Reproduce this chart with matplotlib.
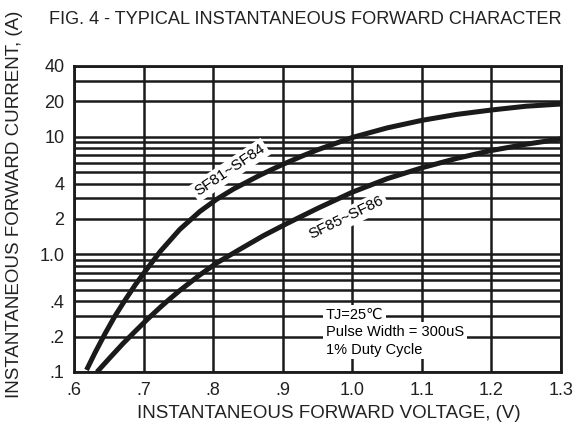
import matplotlib
matplotlib.use("Agg")
import matplotlib.pyplot as plt
from matplotlib.ticker import FixedLocator, NullFormatter

plt.rcParams["font.family"] = ["Liberation Sans", "DejaVu Sans"]

# forward voltage (V) / forward current (A)
v_sf81 = [0.618, 0.630, 0.645, 0.659, 0.673, 0.688, 0.702, 0.724, 0.752, 0.781,
          0.805, 0.829, 0.867, 0.896, 0.925, 0.95, 1.00, 1.05, 1.10, 1.15,
          1.20, 1.25, 1.30]
i_sf81 = [0.104, 0.145, 0.214, 0.30, 0.405, 0.55, 0.715, 1.06, 1.63, 2.32,
          2.94, 3.59, 4.71, 5.68, 6.75, 7.75, 9.87, 11.9, 13.8, 15.5,
          16.9, 18.2, 19.0]

v_sf85 = [0.633, 0.652, 0.671, 0.688, 0.705, 0.724, 0.738, 0.752, 0.781, 0.805,
          0.839, 0.872, 0.906, 0.925, 0.95, 1.00, 1.05, 1.10, 1.15, 1.20,
          1.25, 1.30]
i_sf85 = [0.100, 0.133, 0.176, 0.222, 0.279, 0.355, 0.42, 0.493, 0.67, 0.845,
          1.11, 1.44, 1.83, 2.08, 2.46, 3.38, 4.4, 5.45, 6.55, 7.65,
          8.65, 9.6]

x_ticks = [0.6, 0.7, 0.8, 0.9, 1.0, 1.1, 1.2, 1.3]
x_labels = [".6", ".7", ".8", ".9", "1.0", "1.1", "1.2", "1.3"]
y_ticks = [0.1, 0.2, 0.4, 1.0, 2, 4, 10, 20, 40]
y_labels = [".1", ".2", ".4", "1.0", "2", "4", "10", "20", "40"]
y_minor = [0.3, 0.5, 0.6, 0.7, 0.8, 0.9, 3, 5, 6, 7, 8, 9, 30]

fig = plt.figure(figsize=(5.76, 4.29), dpi=100)
ax = fig.add_axes([74 / 576, 1 - 372 / 429, 487 / 576, 306 / 429])

ax.set_yscale("log")
ax.set_xlim(0.6, 1.3)
ax.set_ylim(0.1, 40)

ax.xaxis.set_major_locator(FixedLocator(x_ticks))
ax.set_xticklabels(x_labels)
ax.yaxis.set_major_locator(FixedLocator(y_ticks))
ax.yaxis.set_minor_locator(FixedLocator(y_minor))
ax.yaxis.set_minor_formatter(NullFormatter())
ax.set_yticklabels(y_labels)
ax.tick_params(which="both", length=0, labelsize=13, colors="#222222", pad=7)

ax.grid(True, which="both", color="#1a1a1a", linewidth=1.8, zorder=1)
ax.set_axisbelow(True)
for sp in ax.spines.values():
    sp.set_linewidth(2.0)
    sp.set_color("#1a1a1a")

for v, i in [(v_sf81, i_sf81), (v_sf85, i_sf85)]:
    ax.plot(v, i, color="#1a1a1a", linewidth=3.6, solid_capstyle="butt",
            solid_joinstyle="round", zorder=5)

box = dict(facecolor="white", edgecolor="none", pad=2)
ax.text(0.824, 5.2, "SF81~SF84", rotation=34, rotation_mode="anchor",
        ha="center", va="center", fontsize=11, bbox=box, zorder=3)
ax.text(0.992, 2.05, "SF85~SF86", rotation=26, rotation_mode="anchor",
        ha="center", va="center", fontsize=11, bbox=box, zorder=3)

ax.text(0.962, 0.308, "TJ=25\u2103", ha="left", va="center", fontsize=10.5, bbox=box, zorder=3)
ax.text(0.962, 0.22, "Pulse Width = 300uS", ha="left", va="center", fontsize=10.5, bbox=box, zorder=3)
ax.text(0.962, 0.155, "1% Duty Cycle", ha="left", va="center", fontsize=10.5, bbox=box, zorder=3)

fig.text(49 / 576, 1 - 20 / 429, "FIG. 4 - TYPICAL INSTANTANEOUS FORWARD CHARACTER",
         ha="left", va="center", fontsize=13.1, color="#222222")
fig.text(15 / 576, 1 - 204 / 429, "INSTANTANEOUS FORWARD CURRENT, (A)", rotation=90,
         ha="center", va="center", fontsize=13.5, color="#222222")
fig.text(329 / 576, 1 - 413 / 429, "INSTANTANEOUS FORWARD VOLTAGE, (V)",
         ha="center", va="center", fontsize=13.5, color="#222222")

fig.savefig("out.png", dpi=100)
